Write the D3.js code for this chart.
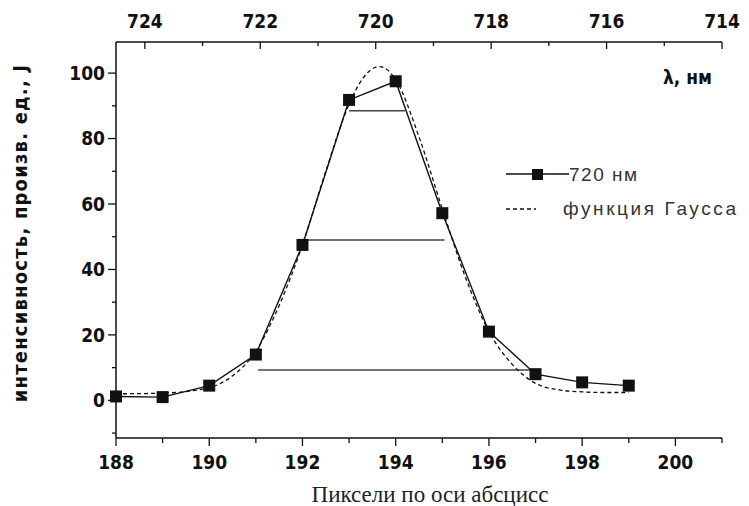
<!DOCTYPE html>
<html>
<head>
<meta charset="utf-8">
<script src="https://cdn.jsdelivr.net/npm/d3@7"></script>
<style>
  body { margin: 0; background: #fff; }
  .tick-lab { font-family: "DejaVu Sans Condensed", "DejaVu Sans", sans-serif; font-stretch: condensed; font-weight: bold; font-size: 19px; fill: #111; }
</style>
</head>
<body>
<div id="chart"></div>
<script>
// измеренные точки (пиксели, интенсивность)
const pixels = [188, 189, 190, 191, 192, 193, 194, 195, 196, 197, 198, 199];
const intensity = [1.2, 1.0, 4.5, 14, 47.5, 91.8, 97.5, 57.2, 21, 8, 5.5, 4.5];

// функция Гаусса
const gaussX = [188, 189, 190, 190.5, 191, 191.5, 192, 192.5, 193, 193.3, 193.65, 194, 194.5, 195, 195.5, 196, 196.5, 197, 197.5, 198, 198.5, 199];
const gaussY = [2.0, 2.2, 3.9, 7.5, 15, 29, 47.5, 70, 90.5, 98.5, 102, 98, 80.5, 58.5, 37.5, 21, 11, 5.2, 3.2, 2.6, 2.4, 2.4];

// горизонтальные уровни: уровень, от, до
const levels = [88.5, 49, 9.3];
const levelFrom = [193.0, 191.95, 191.05];
const levelTo = [194.2, 195.05, 196.9];

const xTicks = [188, 190, 192, 194, 196, 198, 200];
const topTicks = [724, 722, 720, 718, 716, 714];
const yTicks = [0, 20, 40, 60, 80, 100];

const width = 749, height = 506;
const m = { left: 116, right: 722, top: 42, bottom: 438 };

const svg = d3.select("#chart").append("svg")
  .attr("width", width)
  .attr("height", height);

const x = d3.scaleLinear().domain([188, 201]).range([m.left, m.right]);
const xTop = d3.scaleLinear().domain([724.5, 714]).range([m.left, m.right]);
const y = d3.scaleLinear().domain([-11.5, 109.5]).range([m.bottom, m.top]);

const axisColor = "#111";

// нижняя ось
svg.append("line").attr("x1", m.left).attr("x2", m.right).attr("y1", m.bottom).attr("y2", m.bottom)
  .attr("stroke", axisColor).attr("stroke-width", 1.5);
d3.range(188, 202).forEach(v => {
  const major = v % 2 === 0;
  svg.append("line").attr("x1", x(v)).attr("x2", x(v))
    .attr("y1", m.bottom).attr("y2", m.bottom + (major ? 8 : 5))
    .attr("stroke", axisColor).attr("stroke-width", 1.3);
});
svg.selectAll(".xlab").data(xTicks).enter().append("text")
  .attr("class", "tick-lab")
  .attr("x", d => x(d)).attr("y", 469)
  .attr("text-anchor", "middle")
  .text(d => d);

// верхняя ось
svg.append("line").attr("x1", m.left).attr("x2", m.right).attr("y1", m.top).attr("y2", m.top)
  .attr("stroke", axisColor).attr("stroke-width", 1.5);
d3.range(714, 725).forEach(v => {
  const major = v % 2 === 0;
  svg.append("line").attr("x1", xTop(v)).attr("x2", xTop(v))
    .attr("y1", m.top).attr("y2", m.top + (major ? 7 : 4))
    .attr("stroke", axisColor).attr("stroke-width", 1.3);
});
svg.selectAll(".tlab").data(topTicks).enter().append("text")
  .attr("class", "tick-lab")
  .attr("x", d => xTop(d)).attr("y", 28)
  .attr("text-anchor", "middle")
  .text(d => d);

// левая ось
svg.append("line").attr("x1", m.left).attr("x2", m.left).attr("y1", m.top).attr("y2", m.bottom)
  .attr("stroke", axisColor).attr("stroke-width", 1.5);
d3.range(-10, 110, 10).forEach(v => {
  const major = v % 20 === 0;
  svg.append("line").attr("x1", m.left).attr("x2", m.left - (major ? 8 : 4))
    .attr("y1", y(v)).attr("y2", y(v))
    .attr("stroke", axisColor).attr("stroke-width", 1.3);
});
svg.selectAll(".ylab").data(yTicks).enter().append("text")
  .attr("class", "tick-lab")
  .attr("x", 105).attr("y", d => y(d))
  .attr("dy", "0.36em")
  .attr("text-anchor", "end")
  .text(d => d);

// подписи осей
svg.append("text")
  .attr("x", 430).attr("y", 502)
  .attr("text-anchor", "middle")
  .style("font-family", "'Liberation Serif', 'DejaVu Serif', serif")
  .style("font-size", "23px")
  .attr("fill", "#222")
  .text("Пиксели по оси абсцисс");

svg.append("text")
  .attr("transform", "translate(27, 233) rotate(-90)")
  .attr("text-anchor", "middle")
  .style("font-family", "'DejaVu Sans Condensed', 'DejaVu Sans', sans-serif")
  .style("font-stretch", "condensed")
  .style("font-weight", "bold")
  .style("font-size", "20px")
  .style("letter-spacing", "1.2px")
  .attr("fill", "#111")
  .text("интенсивность, произв. ед., J");

svg.append("text")
  .attr("x", 712).attr("y", 84)
  .attr("text-anchor", "end")
  .style("font-family", "'DejaVu Sans Condensed', 'DejaVu Sans', sans-serif")
  .style("font-weight", "bold")
  .style("font-size", "19px")
  .attr("fill", "#111")
  .text("λ, нм");

// горизонтальные уровни
svg.selectAll(".lvl").data(levels).enter().append("line")
  .attr("x1", (d, i) => x(levelFrom[i]))
  .attr("x2", (d, i) => x(levelTo[i]))
  .attr("y1", d => y(d)).attr("y2", d => y(d))
  .attr("stroke", "#444").attr("stroke-width", 1.6);

// кривая Гаусса
const gaussData = gaussX.map((v, i) => [v, gaussY[i]]);
svg.append("path")
  .datum(gaussData)
  .attr("fill", "none")
  .attr("stroke", "#111")
  .attr("stroke-width", 1.3)
  .attr("stroke-dasharray", "4,3")
  .attr("d", d3.line().x(d => x(d[0])).y(d => y(d[1])).curve(d3.curveMonotoneX));

// измеренные данные
const data = pixels.map((v, i) => [v, intensity[i]]);
svg.append("path")
  .datum(data)
  .attr("fill", "none")
  .attr("stroke", "#111")
  .attr("stroke-width", 1.4)
  .attr("d", d3.line().x(d => x(d[0])).y(d => y(d[1])));

svg.selectAll(".pt").data(data).enter().append("rect")
  .attr("x", d => x(d[0]) - 6)
  .attr("y", d => y(d[1]) - 6)
  .attr("width", 12).attr("height", 12)
  .attr("fill", "#111");

// легенда
const lg = svg.append("g");
lg.append("line").attr("x1", 506).attr("x2", 569).attr("y1", 174).attr("y2", 174)
  .attr("stroke", "#111").attr("stroke-width", 1.3);
lg.append("rect").attr("x", 532).attr("y", 169).attr("width", 11).attr("height", 11).attr("fill", "#111");
lg.append("text").attr("x", 569).attr("y", 181)
  .style("font-family", "'Liberation Sans', Arial, sans-serif")
  .style("font-size", "19px")
  .style("letter-spacing", "1.5px")
  .attr("fill", "#333")
  .text("720 нм");
lg.append("line").attr("x1", 506).attr("x2", 536).attr("y1", 209).attr("y2", 209)
  .attr("stroke", "#111").attr("stroke-width", 1.3).attr("stroke-dasharray", "4,3");
lg.append("text").attr("x", 563).attr("y", 215)
  .style("font-family", "'Liberation Sans', Arial, sans-serif")
  .style("font-size", "19px")
  .style("letter-spacing", "2.6px")
  .attr("fill", "#333")
  .text("функция Гаусса");
</script>
</body>
</html>
